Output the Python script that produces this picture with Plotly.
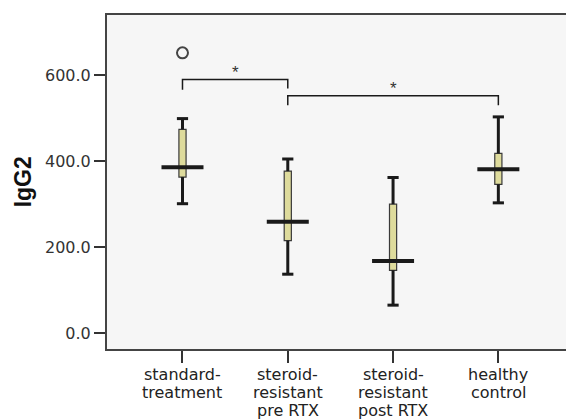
import plotly.graph_objects as go

# ---- data ----
categories = ["standard-treatment", "steroid-resistant pre RTX",
              "steroid-resistant post RTX", "healthy control"]
label_lines = [["standard-", "treatment"],
               ["steroid-", "resistant", "pre RTX"],
               ["steroid-", "resistant", "post RTX"],
               ["healthy", "control"]]
lower_fence = [301, 137, 65, 303]
q1_vals = [363, 215, 146, 346]
median_vals = [386, 259, 168, 381]
q3_vals = [474, 377, 300, 418]
upper_fence = [499, 405, 362, 503]
outlier_group = [0]
outlier_vals = [652]
y_ticks = [0, 200, 400, 600]
# significance brackets: (group a, group b, bracket height, leg a end, leg b end, star height)
brackets = [(0, 1, 590, 566, 569, 606), (1, 3, 552, 530, 530, 568)]

xs = list(range(len(categories)))
DARK = "#1a1a1a"
FONT = "Liberation Sans, Arial, sans-serif"
WIDE = "DejaVu Sans, Liberation Sans, sans-serif"

fig = go.Figure()

# whiskers (drawn as segments outside the box)
wx, wy = [], []
for i in xs:
    wx += [i, i, None, i, i, None]
    wy += [lower_fence[i], q1_vals[i], None, q3_vals[i], upper_fence[i], None]
fig.add_trace(go.Scatter(x=wx, y=wy, mode="lines",
                         line=dict(color=DARK, width=3), hoverinfo="skip",
                         showlegend=False))

# boxes
fig.add_trace(go.Box(x=xs, q1=q1_vals, median=median_vals, q3=q3_vals,
                     lowerfence=lower_fence, upperfence=upper_fence,
                     width=0.068, whiskerwidth=0,
                     fillcolor="#dedb9c", line=dict(color="#3a3a3a", width=1.2),
                     boxpoints=False, showlegend=False))

# whisker caps
fig.add_trace(go.Scatter(x=xs + xs, y=lower_fence + upper_fence, mode="markers",
                         marker=dict(symbol="line-ew", size=8,
                                     line=dict(color=DARK, width=3)),
                         hoverinfo="skip", showlegend=False))
# wide median bars
fig.add_trace(go.Scatter(x=xs, y=median_vals, mode="markers",
                         marker=dict(symbol="line-ew", size=30,
                                     line=dict(color=DARK, width=4)),
                         showlegend=False))
# outliers
fig.add_trace(go.Scatter(x=outlier_group, y=outlier_vals, mode="markers",
                         marker=dict(symbol="circle-open", size=11, color="#444",
                                     line=dict(color="#444", width=2)),
                         showlegend=False))

# significance brackets
for a, b, h, la, lb, sh in brackets:
    fig.add_shape(type="path", xref="x", yref="y",
                  path=f"M {a},{la} L {a},{h} L {b},{h} L {b},{lb}",
                  line=dict(color=DARK, width=1.5))
    fig.add_annotation(x=(a + b) / 2, y=sh, text="*", showarrow=False,
                       font=dict(family=FONT, size=17, color="#333"),
                       xanchor="center", yanchor="middle")

# multi-line category labels (tight line spacing as in the reference)
for i, lines in zip(xs, label_lines):
    for k, t in enumerate(lines):
        fig.add_annotation(x=i, xref="x", y=0, yref="paper", text=t,
                           showarrow=False, xanchor="center", yanchor="middle",
                           yshift=-25 - 18.2 * k, borderpad=0,
                           font=dict(family=WIDE, size=16, color="#222"))

# page has an 8px body margin: figure is sized/placed to compensate
W, H = 566, 412
ML, MR, MT, MB = 99, 1, 7, 71
plot_w = W - ML - MR

# y-axis title
fig.add_annotation(x=-(ML - 15) / plot_w, xref="paper", y=0.5, yref="paper",
                   text="<b>IgG2</b>", showarrow=False, textangle=-90,
                   xanchor="center", yanchor="middle",
                   font=dict(family=FONT, size=23, color="#111"))

fig.update_layout(
    width=W, height=H,
    margin=dict(l=ML, r=MR, t=MT, b=MB),
    paper_bgcolor="white", plot_bgcolor="#f6f6f6",
    showlegend=False,
)
fig.update_xaxes(range=[-0.717, 3.69], tickvals=xs, showticklabels=False,
                 ticks="outside", ticklen=12, tickwidth=2, tickcolor="#333",
                 showline=True, linecolor="#444", linewidth=2, mirror=True,
                 showgrid=False, zeroline=False)
fig.update_yaxes(range=[-37, 740], tickvals=y_ticks,
                 ticktext=[f"{v:.1f}" for v in y_ticks],
                 ticks="outside", ticklen=11, tickwidth=2, tickcolor="#333",
                 tickfont=dict(family=WIDE, size=16, color="#333"),
                 showline=True, linecolor="#444", linewidth=2, mirror=True,
                 showgrid=False, zeroline=False)

fig.write_html("out.html")
